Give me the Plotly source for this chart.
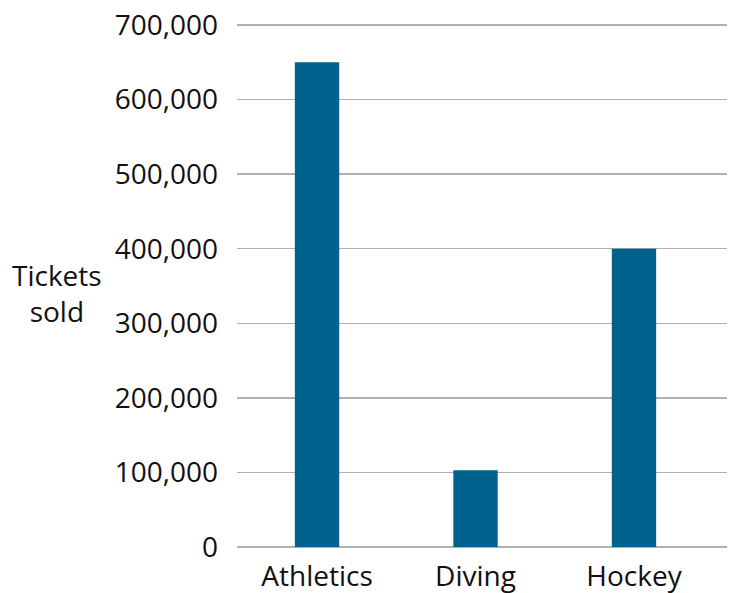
import plotly.graph_objects as go

sports = ["Athletics", "Diving", "Hockey"]
tickets_sold = [650000, 103000, 400000]
y_tick_values = [0, 100000, 200000, 300000, 400000, 500000, 600000, 700000]
y_tick_labels = ["0", "100,000", "200,000", "300,000", "400,000", "500,000", "600,000", "700,000"]

FONT = "Open Sans"
BAR = "#00628f"
GRID = "#b0b0b0"
TXT = "#111111"

L, R, T, B = 237, 6, 22, 46
PW, PH = 733 - L - R, 593 - T - B
Y_TOP = 700000 * PH / 522  # 522px per 700,000, small headroom above top gridline

fig = go.Figure(
    go.Bar(
        x=sports,
        y=tickets_sold,
        width=0.28,
        marker=dict(color=BAR, line=dict(width=0)),
        hoverinfo="skip",
    )
)

fig.update_layout(
    width=733,
    height=593,
    margin=dict(l=L, r=R, t=T, b=B, autoexpand=False),
    paper_bgcolor="white",
    plot_bgcolor="white",
    showlegend=False,
    font=dict(family=FONT, size=28, color=TXT),
    xaxis=dict(
        type="category",
        range=[-0.505, 2.587],
        showgrid=False,
        zeroline=False,
        showline=False,
        ticks="",
        ticklabelstandoff=10,
        ticklabeloverflow="allow",
        tickfont=dict(family=FONT, size=28, color=TXT),
        fixedrange=True,
    ),
    yaxis=dict(
        range=[0, Y_TOP],
        tickvals=y_tick_values,
        ticktext=y_tick_labels,
        showgrid=True,
        gridcolor=GRID,
        gridwidth=1.5,
        zeroline=True,
        zerolinecolor=GRID,
        zerolinewidth=1.5,
        showline=False,
        ticks="",
        ticklabelstandoff=18,
        ticklabeloverflow="allow",
        tickfont=dict(family=FONT, size=28, color=TXT),
        fixedrange=True,
    ),
    annotations=[
        dict(
            text="Tickets<br>sold",
            xref="paper",
            yref="paper",
            x=(57 - L) / PW,
            y=(593 - B - 293) / PH,
            xanchor="center",
            yanchor="middle",
            showarrow=False,
            align="center",
            font=dict(family=FONT, size=28, color=TXT),
        )
    ],
)

fig.write_html(
    "out.html",
    config={"displayModeBar": False, "staticPlot": True},
    post_script="document.body.style.margin='0';document.body.style.overflow='hidden';",
)
